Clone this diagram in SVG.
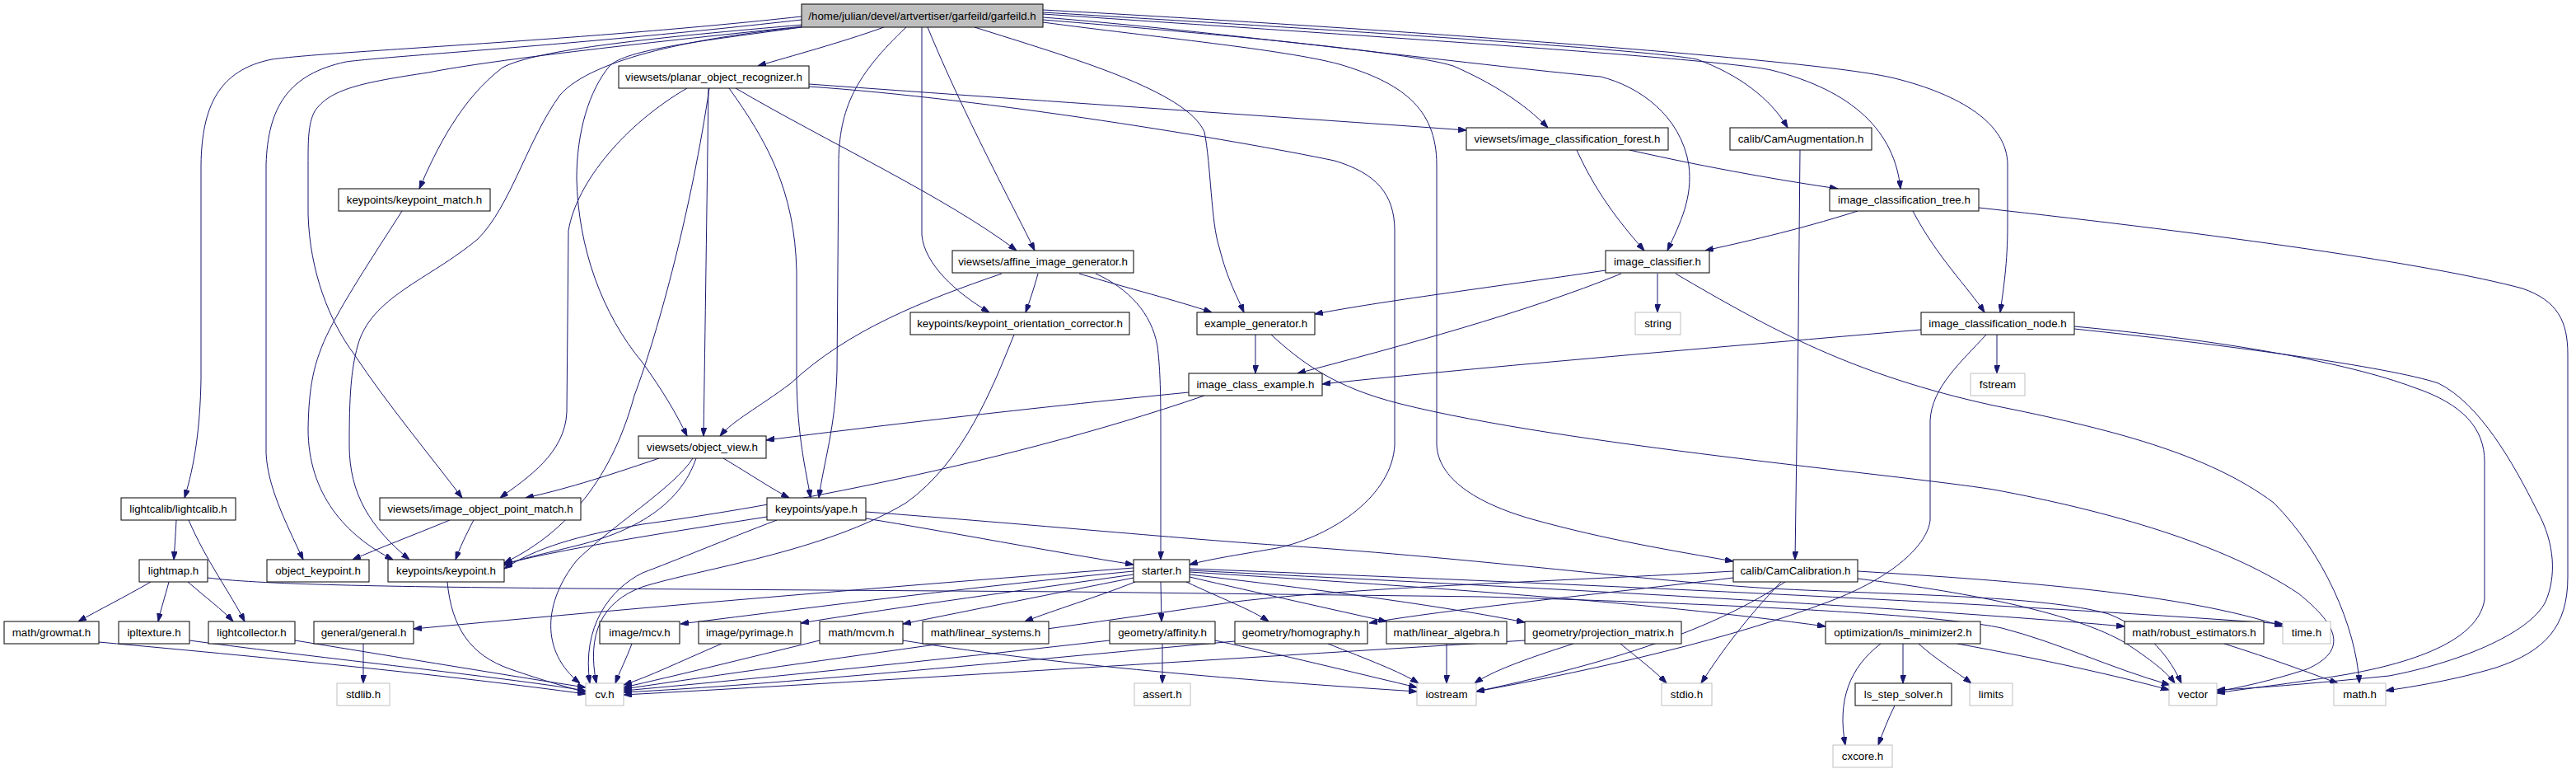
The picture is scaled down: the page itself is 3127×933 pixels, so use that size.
<svg xmlns="http://www.w3.org/2000/svg" width="3127" height="933" viewBox="0 0 3127 933">
<style>
.n rect{fill:#fff;stroke:#000;stroke-width:1}
.g rect{fill:#fff;stroke:#bfbfbf;stroke-width:1}
.r rect{fill:#bfbfbf;stroke:#000;stroke-width:1}
text{font-family:"Liberation Sans",Arial,sans-serif;font-size:13.33px;text-anchor:middle;fill:#000}
#edges path{fill:none;stroke:#191970;stroke-width:1;marker-end:url(#a)}
</style>
<defs>
<marker id="a" viewBox="0 0 10 7" refX="10" refY="3.5" markerWidth="10" markerHeight="7" orient="auto" markerUnits="userSpaceOnUse"><path d="M0,0 L10,3.5 L0,7 z" fill="#191970" stroke="#191970"/></marker>
</defs>
<rect width="3127" height="933" fill="#fff"/>
<g id="edges">
<path d="M1073,33 C1020,52 960,68 920,80"/>
<path d="M973,20 C700,50 400,62 330,72 C265,85 245,130 244,200 L244,460 C243,520 236,565 224,604"/>
<path d="M973,24 C700,55 470,68 420,75 C350,90 325,130 323,200 L323,550 C325,590 345,630 368,679"/>
<path d="M975,30 C800,45 650,60 610,82 C560,120 530,180 509,229"/>
<path d="M975,32 C800,50 600,72 520,88 C440,100 400,108 382,135 C374,150 374,170 374,200 L374,260 C376,330 400,390 430,430 C470,490 520,550 561,604"/>
<path d="M973,33 C850,45 720,70 680,115 C640,170 620,250 580,290 C520,340 450,360 434,420 C426,450 424,480 424,540 C424,600 450,640 497,679"/>
<path d="M973,33 C850,50 760,60 740,80 C715,110 700,160 700,217 C702,300 730,380 780,440 C805,475 820,500 834,529"/>
<path d="M1100,33 C1040,90 1018,130 1018,200 L1016,450 C1014,520 1000,560 994,604"/>
<path d="M1119,33 L1119,285 C1122,320 1160,355 1201,379"/>
<path d="M1126,33 C1170,140 1230,250 1256,304"/>
<path d="M1183,33 C1300,70 1440,110 1462,160 C1470,200 1470,270 1480,300 C1490,340 1502,360 1510,379"/>
<path d="M1266,24 C1400,35 1700,60 1764,80 C1810,100 1850,125 1879,155"/>
<path d="M1266,21 C1450,35 1800,80 1943,93 C1990,105 2040,140 2050,200 C2055,240 2040,270 2024,304"/>
<path d="M1266,15 C1600,35 2000,60 2060,72 C2110,90 2150,120 2170,155"/>
<path d="M1266,17 C1600,40 2080,70 2150,85 C2250,110 2300,160 2307,229"/>
<path d="M1266,12 C1600,30 2200,70 2300,95 C2380,115 2437,150 2437,200 L2437,273 C2437,320 2432,350 2428,379"/>
<path d="M1266,27 C1400,45 1560,60 1626,78 C1700,100 1744,130 1744,200 L1744,540 C1746,580 1790,610 1860,630 C1950,655 2030,668 2104,681"/>
<path d="M834,107 C760,150 700,220 690,280 L688,500 C686,550 640,580 607,604"/>
<path d="M861,107 C840,250 800,400 770,480 C740,590 680,650 612,683"/>
<path d="M860,107 C858,250 856,400 854,529"/>
<path d="M885,107 C930,170 965,230 967,330 L967,460 C968,530 978,570 984,604"/>
<path d="M893,107 C1000,170 1150,240 1234,304"/>
<path d="M982,102 C1300,125 1600,145 1780,158"/>
<path d="M982,105 C1200,120 1500,170 1620,195 C1670,210 1693,235 1693,280 L1693,540 C1690,600 1620,650 1550,665 C1510,672 1470,678 1444,685"/>
<path d="M1914,182 C1940,240 1975,280 1996,304"/>
<path d="M1978,182 C2080,205 2170,220 2231,229"/>
<path d="M2185,182 L2183,400 L2179,679"/>
<path d="M2255,256 C2180,280 2110,295 2070,304"/>
<path d="M2322,256 C2350,310 2390,350 2409,379"/>
<path d="M2402,252 C2700,285 2950,320 3062,350 C3105,365 3117,390 3117,430 L3117,700 C3117,760 3090,790 3030,810 C2980,825 2930,833 2896,838"/>
<path d="M1949,328 C1800,350 1680,365 1596,381"/>
<path d="M1968,332 C1850,380 1700,420 1575,453"/>
<path d="M2012,332 L2012,379"/>
<path d="M2034,332 C2150,400 2250,455 2420,492 C2560,520 2680,550 2760,610 C2820,670 2860,760 2864,829"/>
<path d="M1524,406 L1524,453"/>
<path d="M1543,406 C1580,440 1620,470 1700,490 C1900,540 2300,575 2420,594 C2560,620 2700,660 2790,720 C2840,760 2850,790 2800,812 C2760,825 2720,834 2691,839"/>
<path d="M1216,332 C1120,365 1030,400 960,465 C920,495 890,510 874,529"/>
<path d="M1260,332 C1255,350 1250,365 1245,379"/>
<path d="M1310,332 C1370,350 1430,365 1471,379"/>
<path d="M1330,332 C1370,350 1398,380 1405,420 C1408,445 1409,470 1409,520 L1409,679"/>
<path d="M1231,406 C1205,470 1170,560 1100,610 C1000,670 850,690 780,712 C730,730 712,770 724,829"/>
<path d="M1443,476 C1200,500 1000,525 930,534"/>
<path d="M1462,480 C1200,570 900,620 780,636 C700,650 650,665 612,690"/>
<path d="M800,556 C730,580 680,595 638,604"/>
<path d="M845,556 C830,600 790,640 700,662 C660,672 630,678 612,686"/>
<path d="M841,556 C820,590 740,640 700,680 C660,730 655,790 704,829"/>
<path d="M878,556 C910,575 940,595 958,604"/>
<path d="M931,627 C850,640 700,662 612,684"/>
<path d="M943,631 C880,655 820,680 780,695 C740,715 706,760 716,829"/>
<path d="M1051,629 C1150,645 1280,670 1376,685"/>
<path d="M1051,621 C1250,636 1450,655 1560,662 C1800,678 2000,705 2150,714 C2300,722 2480,722 2560,745 C2610,765 2635,800 2648,829"/>
<path d="M214,631 C213,650 212,665 211,679"/>
<path d="M229,631 C250,680 280,720 297,754"/>
<path d="M183,706 C150,725 120,740 95,754"/>
<path d="M205,706 C200,725 195,740 192,754"/>
<path d="M228,706 C250,725 270,740 283,754"/>
<path d="M252,701 C320,710 500,712 700,714 L1300,718 L1800,724 C2100,733 2350,745 2430,762 C2500,780 2560,810 2634,831"/>
<path d="M120,779 C350,800 550,820 711,842"/>
<path d="M230,777 C400,800 600,820 711,838"/>
<path d="M358,777 C500,800 650,825 711,834"/>
<path d="M441,781 L441,829"/>
<path d="M1376,689 C1100,710 800,735 502,763"/>
<path d="M1376,693 C1200,710 1000,735 826,757"/>
<path d="M1376,697 C1250,715 1100,735 972,756"/>
<path d="M1376,701 C1280,720 1180,740 1096,757"/>
<path d="M1378,706 C1330,725 1280,740 1244,754"/>
<path d="M1409,706 L1410,754"/>
<path d="M1440,706 C1480,725 1520,740 1540,754"/>
<path d="M1444,700 C1530,720 1620,740 1683,754"/>
<path d="M1444,697 C1600,715 1750,735 1851,755"/>
<path d="M1444,694 C1700,710 2000,730 2216,760"/>
<path d="M1444,692 C1800,710 2300,735 2579,760"/>
<path d="M1444,690 C1900,708 2400,730 2771,757"/>
<path d="M2104,701 C1950,720 1750,740 1662,756"/>
<path d="M2104,693 C1900,705 1650,712 1500,730 C1300,760 1000,800 757,836"/>
<path d="M2167,706 C2100,750 2000,795 1792,839"/>
<path d="M2162,706 C2120,750 2090,790 2065,829"/>
<path d="M2255,693 C2450,705 2650,720 2771,760"/>
<path d="M2255,702 C2400,720 2520,745 2580,780 C2610,800 2630,815 2640,829"/>
<path d="M767,781 C760,800 752,815 747,829"/>
<path d="M876,781 C820,805 790,820 757,831"/>
<path d="M995,777 C900,800 820,820 757,834"/>
<path d="M1096,777 C1300,810 1550,828 1720,839"/>
<path d="M1411,781 L1411,829"/>
<path d="M1347,777 C1100,805 900,825 757,838"/>
<path d="M1475,777 C1580,800 1660,820 1720,834"/>
<path d="M1499,778 C1200,805 950,830 757,840"/>
<path d="M1612,781 C1660,800 1700,815 1722,829"/>
<path d="M1756,781 L1756,829"/>
<path d="M1851,777 C1400,805 1000,830 757,843"/>
<path d="M1910,781 C1850,800 1810,815 1790,829"/>
<path d="M1967,781 C1990,800 2010,815 2023,829"/>
<path d="M2283,781 C2245,810 2230,850 2240,904"/>
<path d="M2310,781 L2310,829"/>
<path d="M2329,781 C2350,800 2375,815 2393,829"/>
<path d="M2376,781 C2480,800 2570,820 2633,837"/>
<path d="M2300,856 C2292,872 2285,890 2280,904"/>
<path d="M2700,781 C2760,800 2800,815 2838,829"/>
<path d="M2332,400 C2100,420 1800,445 1605,466"/>
<path d="M2424,406 L2424,453"/>
<path d="M2411,406 C2380,440 2345,470 2343,510 L2343,631 C2340,660 2300,700 2220,730 C2100,775 1950,810 1792,839"/>
<path d="M2518,396 C2700,413 2850,440 2930,470 C2990,490 3016,520 3016,560 L3016,727 C3010,770 2950,800 2850,818 C2780,830 2720,836 2691,841"/>
<path d="M2518,399 C2700,418 2900,445 2960,465 C3010,490 3050,560 3080,620 C3102,660 3103,700 3090,730 C3070,770 2980,805 2900,820 C2780,832 2720,836 2691,837"/>
<path d="M546,631 C500,650 460,665 428,679"/>
<path d="M575,631 C565,650 558,665 553,679"/>
<path d="M488,256 C460,300 420,360 400,400 C380,440 375,470 374,520 C374,600 420,650 477,679"/>
<path d="M543,706 C548,760 570,795 620,812 C660,826 690,834 711,840"/>
</g>
<g id="n_root" class="r"><rect x="973" y="5" width="293" height="28"/><text x="1119.5" y="24">/home/julian/devel/artvertiser/garfeild/garfeild.h</text></g>
<g id="n_planar" class="n"><rect x="751" y="80" width="231" height="27"/><text x="866.5" y="98">viewsets/planar_object_recognizer.h</text></g>
<g id="n_forest" class="n"><rect x="1780" y="155" width="245" height="27"/><text x="1902.5" y="173">viewsets/image_classification_forest.h</text></g>
<g id="n_camaug" class="n"><rect x="2100" y="155" width="172" height="27"/><text x="2186" y="173">calib/CamAugmentation.h</text></g>
<g id="n_kpmatch" class="n"><rect x="411" y="229" width="184" height="27"/><text x="503" y="247">keypoints/keypoint_match.h</text></g>
<g id="n_tree" class="n"><rect x="2221" y="229" width="181" height="27"/><text x="2311.5" y="247">image_classification_tree.h</text></g>
<g id="n_affine" class="n"><rect x="1156" y="304" width="220" height="27"/><text x="1266" y="322">viewsets/affine_image_generator.h</text></g>
<g id="n_classifier" class="n"><rect x="1949" y="304" width="126" height="27"/><text x="2012" y="322">image_classifier.h</text></g>
<g id="n_kporient" class="n"><rect x="1105" y="379" width="266" height="27"/><text x="1238" y="397">keypoints/keypoint_orientation_corrector.h</text></g>
<g id="n_exgen" class="n"><rect x="1453" y="379" width="143" height="27"/><text x="1524.5" y="397">example_generator.h</text></g>
<g id="n_string" class="g"><rect x="1985" y="379" width="55" height="27"/><text x="2012.5" y="397">string</text></g>
<g id="n_node" class="n"><rect x="2332" y="379" width="186" height="27"/><text x="2425" y="397">image_classification_node.h</text></g>
<g id="n_iclsex" class="n"><rect x="1443" y="453" width="162" height="27"/><text x="1524" y="471">image_class_example.h</text></g>
<g id="n_fstream" class="g"><rect x="2392" y="453" width="66" height="27"/><text x="2425" y="471">fstream</text></g>
<g id="n_objview" class="n"><rect x="775" y="529" width="155" height="27"/><text x="852.5" y="547">viewsets/object_view.h</text></g>
<g id="n_lightcalib" class="n"><rect x="147" y="604" width="139" height="27"/><text x="216.5" y="622">lightcalib/lightcalib.h</text></g>
<g id="n_iopm" class="n"><rect x="461" y="604" width="244" height="27"/><text x="583" y="622">viewsets/image_object_point_match.h</text></g>
<g id="n_yape" class="n"><rect x="931" y="604" width="120" height="27"/><text x="991" y="622">keypoints/yape.h</text></g>
<g id="n_lightmap" class="n"><rect x="169" y="679" width="83" height="27"/><text x="210.5" y="697">lightmap.h</text></g>
<g id="n_objkp" class="n"><rect x="324" y="679" width="124" height="27"/><text x="386" y="697">object_keypoint.h</text></g>
<g id="n_keypoint" class="n"><rect x="471" y="679" width="141" height="27"/><text x="541.5" y="697">keypoints/keypoint.h</text></g>
<g id="n_starter" class="n"><rect x="1376" y="679" width="68" height="27"/><text x="1410" y="697">starter.h</text></g>
<g id="n_camcal" class="n"><rect x="2104" y="679" width="151" height="27"/><text x="2179.5" y="697">calib/CamCalibration.h</text></g>
<g id="n_growmat" class="n"><rect x="5" y="754" width="115" height="27"/><text x="62.5" y="772">math/growmat.h</text></g>
<g id="n_ipltexture" class="n"><rect x="144" y="754" width="86" height="27"/><text x="187" y="772">ipltexture.h</text></g>
<g id="n_lightcollector" class="n"><rect x="253" y="754" width="105" height="27"/><text x="305.5" y="772">lightcollector.h</text></g>
<g id="n_general" class="n"><rect x="381" y="754" width="121" height="27"/><text x="441.5" y="772">general/general.h</text></g>
<g id="n_mcv" class="n"><rect x="728" y="754" width="97" height="27"/><text x="776.5" y="772">image/mcv.h</text></g>
<g id="n_pyrimage" class="n"><rect x="848" y="754" width="124" height="27"/><text x="910" y="772">image/pyrimage.h</text></g>
<g id="n_mcvm" class="n"><rect x="995" y="754" width="101" height="27"/><text x="1045.5" y="772">math/mcvm.h</text></g>
<g id="n_linsys" class="n"><rect x="1120" y="754" width="153" height="27"/><text x="1196.5" y="772">math/linear_systems.h</text></g>
<g id="n_affinity" class="n"><rect x="1347" y="754" width="128" height="27"/><text x="1411" y="772">geometry/affinity.h</text></g>
<g id="n_homography" class="n"><rect x="1499" y="754" width="161" height="27"/><text x="1579.5" y="772">geometry/homography.h</text></g>
<g id="n_linalg" class="n"><rect x="1683" y="754" width="146" height="27"/><text x="1756" y="772">math/linear_algebra.h</text></g>
<g id="n_projmat" class="n"><rect x="1851" y="754" width="190" height="27"/><text x="1946" y="772">geometry/projection_matrix.h</text></g>
<g id="n_lsmin" class="n"><rect x="2216" y="754" width="188" height="27"/><text x="2310" y="772">optimization/ls_minimizer2.h</text></g>
<g id="n_robust" class="n"><rect x="2579" y="754" width="169" height="27"/><text x="2663.5" y="772">math/robust_estimators.h</text></g>
<g id="n_time" class="g"><rect x="2771" y="754" width="58" height="27"/><text x="2800" y="772">time.h</text></g>
<g id="n_stdlib" class="g"><rect x="409" y="829" width="64" height="27"/><text x="441" y="847">stdlib.h</text></g>
<g id="n_cv" class="g"><rect x="711" y="829" width="46" height="27"/><text x="734" y="847">cv.h</text></g>
<g id="n_assert" class="g"><rect x="1377" y="829" width="68" height="27"/><text x="1411" y="847">assert.h</text></g>
<g id="n_iostream" class="g"><rect x="1720" y="829" width="72" height="27"/><text x="1756" y="847">iostream</text></g>
<g id="n_stdio" class="g"><rect x="2017" y="829" width="61" height="27"/><text x="2047.5" y="847">stdio.h</text></g>
<g id="n_lsstep" class="n"><rect x="2252" y="829" width="117" height="27"/><text x="2310.5" y="847">ls_step_solver.h</text></g>
<g id="n_limits" class="g"><rect x="2391" y="829" width="52" height="27"/><text x="2417" y="847">limits</text></g>
<g id="n_vector" class="g"><rect x="2633" y="829" width="58" height="27"/><text x="2662" y="847">vector</text></g>
<g id="n_math" class="g"><rect x="2833" y="829" width="63" height="27"/><text x="2864.5" y="847">math.h</text></g>
<g id="n_cxcore" class="g"><rect x="2225" y="904" width="72" height="27"/><text x="2261" y="922">cxcore.h</text></g>
</svg>
